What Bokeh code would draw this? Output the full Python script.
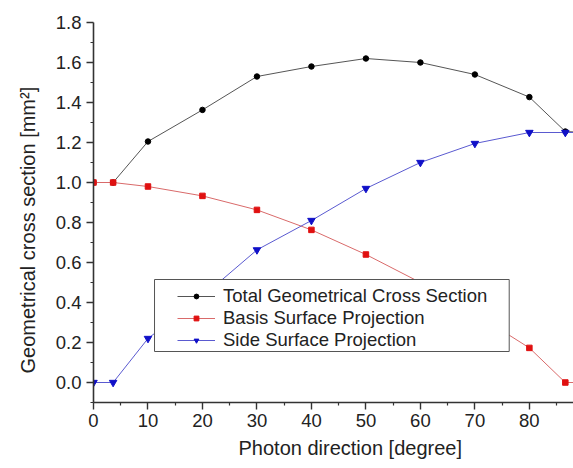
from bokeh.plotting import figure
from bokeh.models import (FixedTicker, NumeralTickFormatter, Legend, LegendItem,
                          Title, Range1d, BoxAnnotation)
from bokeh.embed import file_html
from bokeh.resources import INLINE

# Photon direction (degree) and geometrical cross sections (mm^2)
angle = [0, 3.6, 10, 20, 30, 40, 50, 60, 70, 80, 86.6, 90]
total = [1.0, 1.0, 1.205, 1.363, 1.53, 1.58, 1.62, 1.60, 1.54, 1.427, 1.255, 1.25]
basis = [1.0, 1.0, 0.98, 0.933, 0.863, 0.763, 0.64, 0.50, 0.345, 0.173, 0.0, 0.0]
side = [0.0, 0.0, 0.22, 0.43, 0.663, 0.81, 0.97, 1.10, 1.195, 1.25, 1.25, 1.25]

x_ticks = [0, 10, 20, 30, 40, 50, 60, 70, 80]
y_ticks = [0.0, 0.2, 0.4, 0.6, 0.8, 1.0, 1.2, 1.4, 1.6, 1.8]

FONT = "Liberation Sans"
TEXT = "#222222"

p = figure(width=573, height=468, output_backend="svg", toolbar_location=None,
           x_range=Range1d(0, 88.1), y_range=Range1d(-0.1, 1.8),
           min_border_left=93, min_border_right=0, min_border_top=22,
           min_border_bottom=66)
p.outline_line_color = None
p.xgrid.visible = False
p.ygrid.visible = False

for ax in (p.xaxis[0], p.yaxis[0]):
    ax.axis_line_color = "#333333"
    ax.axis_line_width = 1.6
    ax.major_tick_line_color = "#333333"
    ax.minor_tick_line_color = "#333333"
    ax.major_tick_line_width = 1.4
    ax.minor_tick_line_width = 1.2
    ax.major_tick_in = 0
    ax.major_tick_out = 7
    ax.minor_tick_in = 0
    ax.minor_tick_out = 3
    ax.major_label_text_font = FONT
    ax.major_label_text_font_size = "18.5px"
    ax.major_label_text_color = TEXT

p.xaxis.ticker = FixedTicker(ticks=x_ticks, minor_ticks=[5, 15, 25, 35, 45, 55, 65, 75, 85])
p.yaxis.ticker = FixedTicker(ticks=y_ticks,
                             minor_ticks=[-0.1, 0.1, 0.3, 0.5, 0.7, 0.9, 1.1, 1.3, 1.5, 1.7])
p.yaxis.formatter = NumeralTickFormatter(format="0.0")
p.xaxis.major_label_standoff = 4
p.yaxis.major_label_standoff = 5

# Series
l1 = p.line(angle, total, line_color="#555555", line_width=1)
m1 = p.scatter(angle, total, marker="circle", size=5.5, color="black")
l2 = p.line(angle, basis, line_color="#d96a6a", line_width=1)
m2 = p.scatter(angle, basis, marker="square", size=5.5, color="#e01010")
l3 = p.line(angle, side, line_color="#5a5ad0", line_width=1)
m3 = p.scatter(angle, side, marker="inverted_triangle", size=7.5, color="#1010c8")

# Legend frame, drawn behind the legend entries
p.add_layout(BoxAnnotation(left=11.2, right=76.3, bottom=0.155, top=0.515,
                           fill_color="white", fill_alpha=1,
                           line_color="#555555", line_width=1, line_alpha=1))

legend = Legend(items=[
    LegendItem(label="Total Geometrical Cross Section", renderers=[l1, m1]),
    LegendItem(label="Basis Surface Projection", renderers=[l2, m2]),
    LegendItem(label="Side Surface Projection", renderers=[l3, m3]),
], location=(84, 51))
legend.label_text_font = FONT
legend.label_text_font_size = "18.5px"
legend.label_text_color = TEXT
legend.glyph_width = 38
legend.glyph_height = 12
legend.label_height = 22
legend.label_standoff = 8
legend.padding = 3
legend.spacing = 0
legend.margin = 0
legend.border_line_color = None
legend.background_fill_alpha = 0
p.add_layout(legend, "center")

# Axis titles
p.add_layout(Title(text="Photon direction [degree]", align="left", offset=145,
                   text_font=FONT, text_font_size="20px", text_font_style="normal",
                   text_color=TEXT, standoff=11), "below")
p.add_layout(Title(text="Geometrical cross section [mm\u00b2]", align="left", offset=29,
                   text_font=FONT, text_font_size="20px", text_font_style="normal",
                   text_color=TEXT, standoff=27), "left")

open("out.html", "w").write(file_html(p, INLINE))
